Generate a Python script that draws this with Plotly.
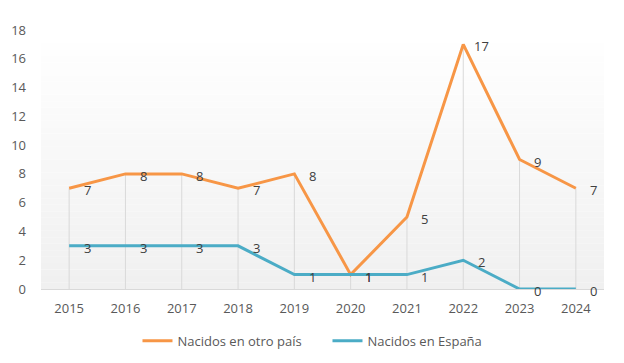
import plotly.graph_objects as go

years = [2015, 2016, 2017, 2018, 2019, 2020, 2021, 2022, 2023, 2024]
otro_pais = [7, 8, 8, 7, 8, 1, 5, 17, 9, 7]
espana = [3, 3, 3, 3, 1, 1, 1, 2, 0, 0]
y_ticks = [0, 2, 4, 6, 8, 10, 12, 14, 16, 18]

ORANGE = "#F79646"
BLUE = "#4BACC6"
FONT = "Open Sans"

fig = go.Figure()

# drop lines from the highest point down to the axis
for yr, a, b in zip(years, otro_pais, espana):
    fig.add_trace(go.Scatter(x=[yr, yr], y=[0, max(a, b)], mode="lines",
                             line=dict(color="#D9D9D9", width=1),
                             showlegend=False, hoverinfo="skip"))

fig.add_trace(go.Scatter(x=years, y=otro_pais, mode="lines", name="Nacidos en otro país",
                         line=dict(color=ORANGE, width=3)))
fig.add_trace(go.Scatter(x=years, y=espana, mode="lines", name="Nacidos en España",
                         line=dict(color=BLUE, width=3)))

for series in (otro_pais, espana):
    for yr, v in zip(years, series):
        fig.add_annotation(x=yr, y=v, text=str(v), showarrow=False, xshift=18, yshift=-2,
                           font=dict(family=FONT, size=13, color="#404040"))

# vertical gradient background of the plot area
n = 40
for i in range(n):
    t = i / (n - 1)
    c = int(round(255 - 15 * (1 - t)))
    fig.add_shape(type="rect", xref="paper", yref="paper", x0=0, x1=1,
                  y0=i / n, y1=(i + 1) / n, fillcolor=f"rgb({c},{c},{c})",
                  line=dict(width=0), layer="below")

fig.update_layout(
    width=624, height=363,
    margin=dict(l=33, r=28, t=22, b=82, autoexpand=False),
    paper_bgcolor="white", plot_bgcolor="rgba(0,0,0,0)",
    font=dict(family=FONT, size=13, color="#595959"),
    showlegend=True,
    legend=dict(orientation="h", xref="container", x=0.512, xanchor="center",
                y=-0.2, yanchor="middle", itemwidth=30, entrywidth=145,
                font=dict(size=13, color="#595959"), tracegroupgap=0),
    xaxis=dict(range=[years[0] - 0.5, years[-1] + 0.5], tickvals=years,
               ticktext=[str(y) for y in years], showgrid=False, showline=True,
               linecolor="#D9D9D9", zeroline=False, ticks="", automargin=False,
               ticklabelstandoff=7,
               tickfont=dict(size=13, color="#595959"), fixedrange=True),
    yaxis=dict(range=[0, 18], tickvals=y_ticks, showgrid=False, zeroline=False,
               showline=False, ticks="", ticklabelstandoff=14, automargin=False,
               tickfont=dict(size=13, color="#595959")),
)

fig.write_html("out.html")
